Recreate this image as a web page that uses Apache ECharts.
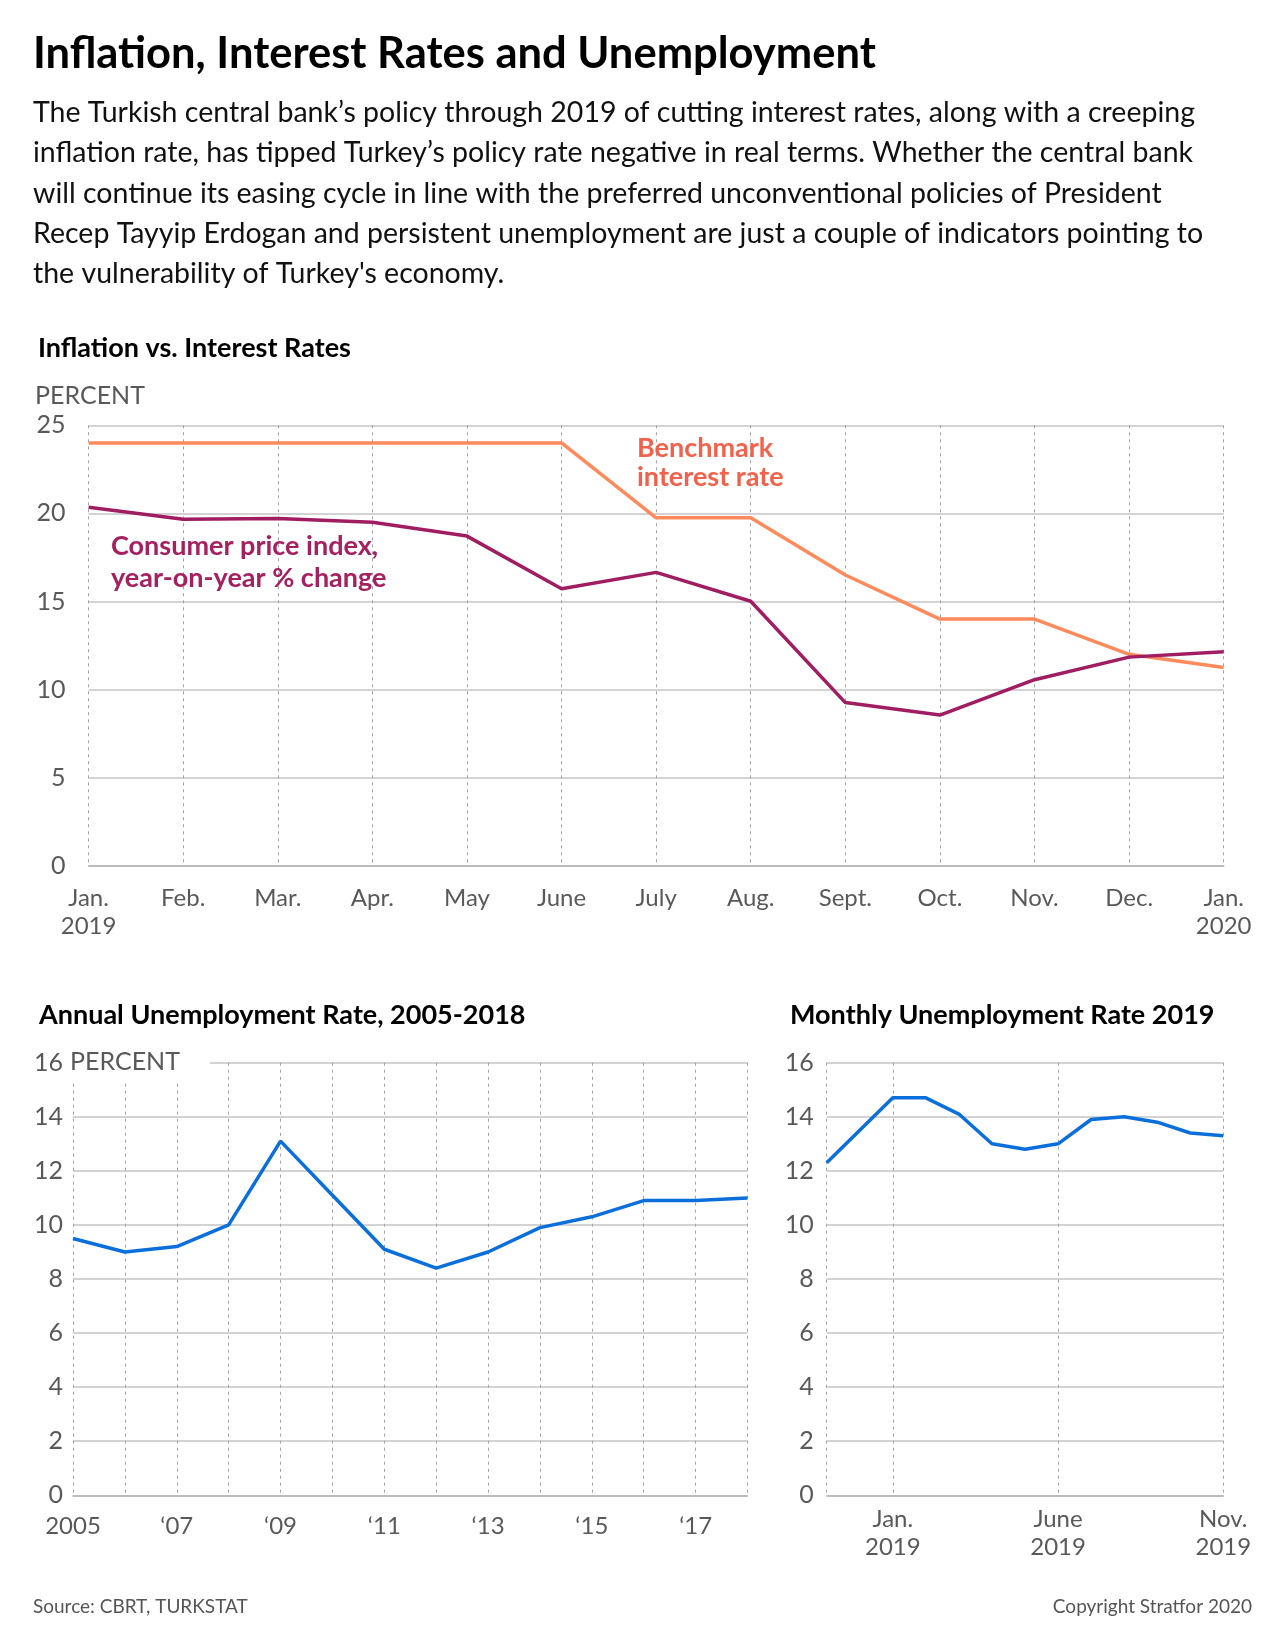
<!DOCTYPE html>
<html>
<head>
<meta charset="utf-8">
<script src="https://cdn.jsdelivr.net/npm/echarts@6/dist/echarts.min.js"></script>
<style>
html, body { margin: 0; padding: 0; background: #fff; }
#main { width: 1280px; height: 1638px; }
</style>
</head>
<body>
<div id="main"></div>
<script>
// top chart: policy rate vs CPI, Jan 2019 - Jan 2020
var months = ['Jan.\n2019', 'Feb.', 'Mar.', 'Apr.', 'May', 'June', 'July', 'Aug.', 'Sept.', 'Oct.', 'Nov.', 'Dec.', 'Jan.\n2020'];
var benchmarkRate = [24, 24, 24, 24, 24, 24, 19.75, 19.75, 16.5, 14, 14, 12, 11.25];
var cpi = [20.35, 19.67, 19.71, 19.5, 18.71, 15.72, 16.65, 15.01, 9.26, 8.55, 10.56, 11.84, 12.15];
var topTicks = [0, 5, 10, 15, 20, 25];

// annual unemployment
var years = ['2005', '2006', '2007', '2008', '2009', '2010', '2011', '2012', '2013', '2014', '2015', '2016', '2017', '2018'];
var annualRate = [9.5, 9.0, 9.2, 10.0, 13.1, 11.1, 9.1, 8.4, 9.0, 9.9, 10.3, 10.9, 10.9, 11.0];

// monthly unemployment, Nov 2018 - Nov 2019
var monthlyCats = ['Nov. 2018', 'Dec. 2018', 'Jan.\n2019', 'Feb. 2019', 'Mar. 2019', 'Apr. 2019', 'May 2019',
    'June\n2019', 'July 2019', 'Aug. 2019', 'Sept. 2019', 'Oct. 2019', 'Nov.\n2019'];
var monthlyRate = [12.3, 13.5, 14.7, 14.7, 14.1, 13.0, 12.8, 13.0, 13.9, 14.0, 13.8, 13.4, 13.3];
var monthlyShown = [2, 7, 12];
var monthlyLines = [0, 2, 7, 12];

var FONT = 'Lato, "Noto Sans", sans-serif';
var GRID_COLOR = '#c4c4c4';
var DASH_COLOR = '#a3a3a3';
var LABEL_COLOR = '#595959';

var myChart = echarts.init(document.getElementById('main'));

function titleItem(text, left, top, size, weight, color, lh) {
    return {
        text: text, left: left, top: top, padding: 0,
        textStyle: { fontFamily: FONT, fontSize: size, fontWeight: weight, color: color, lineHeight: lh }
    };
}

var option = {
    animation: false,
    backgroundColor: '#fff',
    title: [
        titleItem('Inflation, Interest Rates and Unemployment', 33, 28, 43.5, 'bold', '#000', 52),
        titleItem('The Turkish central bank\u2019s policy through 2019 of cutting interest rates, along with a creeping\n' +
            'inflation rate, has tipped Turkey\u2019s policy rate negative in real terms. Whether the central bank\n' +
            'will continue its easing cycle in line with the preferred unconventional policies of President\n' +
            'Recep Tayyip Erdogan and persistent unemployment are just a couple of indicators pointing to\n' +
            'the vulnerability of Turkey\'s economy.', 33, 93, 28.5, 'normal', '#111', 40.2),
        titleItem('Inflation vs. Interest Rates', 38, 333, 27, 'bold', '#000', 30),
        titleItem('Annual Unemployment Rate, 2005-2018', 39, 1000, 27, 'bold', '#000', 30),
        titleItem('Monthly Unemployment Rate 2019', 790, 1000, 27, 'bold', '#000', 30),
        titleItem('Source: CBRT, TURKSTAT', 33, 1596, 19, 'normal', '#555', 22),
        { text: 'Copyright Stratfor 2020', right: 28, top: 1596, padding: 0,
          textStyle: { fontFamily: FONT, fontSize: 19, fontWeight: 'normal', color: '#555', lineHeight: 22 } }
    ],
    graphic: [
        { type: 'text', left: 35, top: 383,
          style: { text: 'PERCENT', fontFamily: FONT, fontSize: 25, fill: LABEL_COLOR } },
        { type: 'text', left: 637, top: 434, z: 10,
          style: { text: 'Benchmark\ninterest rate', fontFamily: FONT, fontSize: 27, fontWeight: 'bold',
                   fill: '#F2614B', lineHeight: 29 } },
        { type: 'text', left: 111, top: 530, z: 10,
          style: { text: 'Consumer price index,\nyear-on-year % change', fontFamily: FONT, fontSize: 27, fontWeight: 'bold',
                   fill: '#A5205F', lineHeight: 32 } },
        // white patch so the 16 gridline starts after the PERCENT label
        { type: 'rect', shape: { x: 65, y: 1046, width: 145, height: 35 }, z: 5,
          style: { fill: '#fff' } },
        { type: 'text', left: 70, top: 1049, z: 10,
          style: { text: 'PERCENT', fontFamily: FONT, fontSize: 25, fill: LABEL_COLOR } }
    ],
    grid: [
        { left: 88.6, right: 56.3, top: 425.3, bottom: 772.3 },
        { left: 73, right: 532.5, top: 1062.7, bottom: 142.7 },
        { left: 826.7, right: 56.7, top: 1062.7, bottom: 142.7 }
    ],
    xAxis: [
        {
            type: 'category', gridIndex: 0, data: months, boundaryGap: false,
            axisLine: { show: true, lineStyle: { color: '#b5b5b5', width: 1.5 } },
            axisTick: { show: false },
            axisLabel: { fontFamily: FONT, fontSize: 24, color: LABEL_COLOR, lineHeight: 28, margin: 19, interval: 0 },
            splitLine: { show: true, interval: 0, lineStyle: { color: DASH_COLOR, type: [3, 4], width: 1 } }
        },
        {
            type: 'category', gridIndex: 1, data: years, boundaryGap: false,
            axisLine: { show: true, lineStyle: { color: '#b5b5b5', width: 1.5 } },
            axisTick: { show: false },
            axisLabel: {
                fontFamily: FONT, fontSize: 24, color: LABEL_COLOR, lineHeight: 28, margin: 17, interval: 1,
                formatter: function (v, i) { return i === 0 ? v : '\u2018' + v.slice(2); }
            },
            splitLine: { show: true, interval: 0, lineStyle: { color: DASH_COLOR, type: [3, 4], width: 1 } }
        },
        {
            type: 'category', gridIndex: 2, data: monthlyCats, boundaryGap: false,
            axisLine: { show: true, lineStyle: { color: '#b5b5b5', width: 1.5 } },
            axisTick: { show: false },
            axisLabel: {
                fontFamily: FONT, fontSize: 24, color: LABEL_COLOR, lineHeight: 28, margin: 10,
                interval: function (i) { return monthlyShown.indexOf(i) >= 0; }
            },
            splitLine: {
                show: true,
                interval: function (i) { return monthlyLines.indexOf(i) >= 0; },
                lineStyle: { color: DASH_COLOR, type: [3, 4], width: 1 }
            }
        }
    ],
    yAxis: [
        {
            type: 'value', gridIndex: 0, min: topTicks[0], max: topTicks[topTicks.length - 1], interval: 5,
            axisLine: { show: false }, axisTick: { show: false },
            axisLabel: { fontFamily: FONT, fontSize: 25, color: LABEL_COLOR, margin: 23 },
            splitLine: { lineStyle: { color: GRID_COLOR, width: 1.5 } }
        },
        {
            type: 'value', gridIndex: 1, min: 0, max: 16, interval: 2,
            axisLine: { show: false }, axisTick: { show: false },
            axisLabel: { fontFamily: FONT, fontSize: 25, color: LABEL_COLOR, margin: 10 },
            splitLine: { lineStyle: { color: GRID_COLOR, width: 1.5 } }
        },
        {
            type: 'value', gridIndex: 2, min: 0, max: 16, interval: 2,
            axisLine: { show: false }, axisTick: { show: false },
            axisLabel: { fontFamily: FONT, fontSize: 25, color: LABEL_COLOR, margin: 13 },
            splitLine: { lineStyle: { color: GRID_COLOR, width: 1.5 } }
        }
    ],
    series: [
        {
            name: 'Benchmark interest rate', type: 'line', xAxisIndex: 0, yAxisIndex: 0,
            data: benchmarkRate, symbol: 'none',
            lineStyle: { color: '#FF8A5B', width: 3.5 }, z: 3
        },
        {
            name: 'Consumer price index', type: 'line', xAxisIndex: 0, yAxisIndex: 0,
            data: cpi, symbol: 'none',
            lineStyle: { color: '#A11D62', width: 3.5 }, z: 4
        },
        {
            name: 'Annual unemployment', type: 'line', xAxisIndex: 1, yAxisIndex: 1,
            data: annualRate, symbol: 'none',
            lineStyle: { color: '#0B6FDB', width: 3.5 }
        },
        {
            name: 'Monthly unemployment', type: 'line', xAxisIndex: 2, yAxisIndex: 2,
            data: monthlyRate, symbol: 'none',
            lineStyle: { color: '#0B6FDB', width: 3.5 }
        }
    ]
};

myChart.setOption(option);
</script>
</body>
</html>
